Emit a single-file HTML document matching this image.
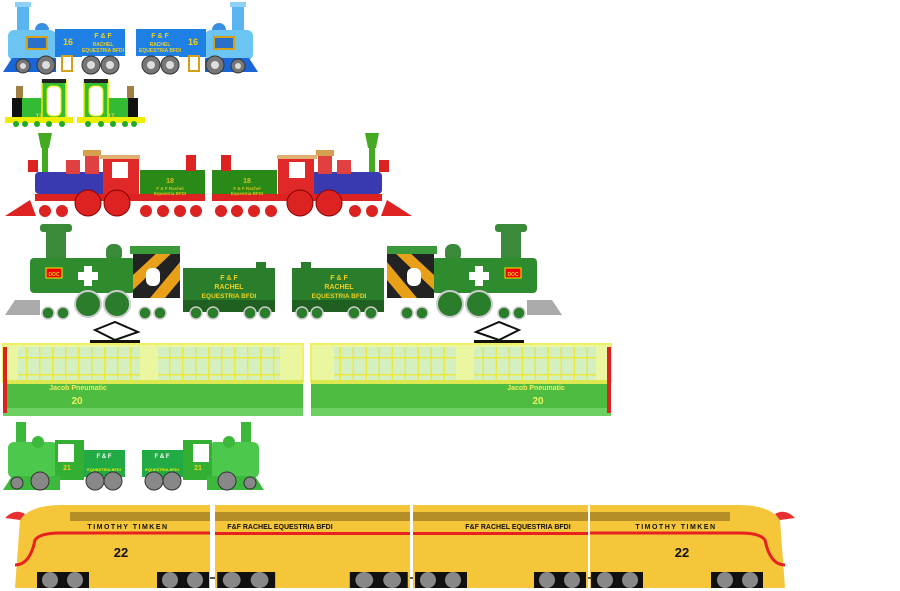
<!DOCTYPE html>
<html><head><meta charset="utf-8"><style>
html,body{margin:0;padding:0;background:#fff;width:900px;height:591px;overflow:hidden}
svg{display:block;font-family:"Liberation Sans",sans-serif}
</style></head><body>
<svg width="900" height="591" viewBox="0 0 900 591" xmlns="http://www.w3.org/2000/svg">
<defs>
<pattern id="win" x="0" y="0" width="13" height="17" patternUnits="userSpaceOnUse">
 <rect width="13" height="17" fill="#d4f0c0"/><rect x="0" y="0" width="1.5" height="17" fill="#e8e840"/><rect x="0" y="0" width="13" height="1.5" fill="#e8e840"/>
</pattern>
<g id="r1">
 <rect x="17" y="2" width="12" height="30" fill="#5ab4f0"/>
 <rect x="15" y="2" width="16" height="5" fill="#8fd0f8"/>
 <circle cx="42" cy="30" r="7" fill="#3a90e0"/>
 <rect x="8" y="30" width="48" height="30" rx="6" fill="#6cc4f2"/>
 <rect x="26" y="36" width="22" height="14" fill="#d4a017"/><rect x="28" y="38" width="18" height="10" fill="#2a70c8"/>
 <polygon points="3,72 12,58 56,58 56,72" fill="#1a66d6"/>
 <rect x="55" y="29" width="27" height="28" fill="#1e80e4"/>
 <rect x="82" y="29" width="43" height="27" fill="#1e80e4"/>
 <rect x="62" y="56" width="10" height="15" fill="none" stroke="#d4a017" stroke-width="2"/>
 <g fill="#777" stroke="#333" stroke-width="1"><circle cx="23" cy="66" r="7"/><circle cx="46" cy="65" r="9"/><circle cx="91" cy="65" r="9"/><circle cx="110" cy="65" r="9"/></g>
 <g fill="#ddd"><circle cx="23" cy="66" r="3"/><circle cx="46" cy="65" r="4"/><circle cx="91" cy="65" r="4"/><circle cx="110" cy="65" r="4"/></g>
</g>
<g id="r2">
 <rect x="16" y="86" width="7" height="12" fill="#a08040"/>
 <rect x="12" y="98" width="12" height="20" fill="#111"/>
 <rect x="22" y="98" width="22" height="20" fill="#33bb33"/>
 <rect x="42" y="80" width="24" height="38" fill="#33bb33" stroke="#ee0" stroke-width="1.5"/>
 <rect x="42" y="79" width="24" height="4" fill="#222"/>
 <rect x="47" y="86" width="14" height="30" rx="5" fill="#fff" stroke="#ee0"/>
 <rect x="5" y="117" width="68" height="6" fill="#ee0"/>
 <g fill="#2a2"><circle cx="16" cy="124" r="3"/><circle cx="25" cy="124" r="3"/><circle cx="37" cy="124" r="3"/><circle cx="49" cy="124" r="3"/><circle cx="62" cy="124" r="3"/></g>
</g>
<g id="r3">
 <polygon points="38,133 52,133 49,148 41,148" fill="#44aa22"/><rect x="42" y="148" width="6" height="28" fill="#44aa22"/>
 <rect x="28" y="160" width="10" height="12" fill="#d22"/>
 <rect x="35" y="172" width="80" height="22" rx="4" fill="#3a3ab0"/>
 <rect x="66" y="160" width="14" height="14" fill="#e04040"/><rect x="85" y="150" width="14" height="24" fill="#e04040"/>
 <rect x="83" y="150" width="18" height="6" fill="#d4a050"/>
 <rect x="103" y="157" width="36" height="40" fill="#e02828"/><rect x="100" y="155" width="40" height="4" fill="#e0b070"/>
 <rect x="112" y="162" width="16" height="16" fill="#fff"/>
 <rect x="140" y="170" width="65" height="28" fill="#2a8a18"/>
 <rect x="186" y="155" width="10" height="16" fill="#d22"/>
 <rect x="35" y="194" width="170" height="7" fill="#d22"/>
 <polygon points="5,216 30,200 36,216" fill="#d22"/>
 <g fill="#d22" stroke="#800"><circle cx="88" cy="203" r="13"/><circle cx="117" cy="203" r="13"/></g>
 <g fill="#d22"><circle cx="45" cy="211" r="6"/><circle cx="62" cy="211" r="6"/><circle cx="146" cy="211" r="6"/><circle cx="163" cy="211" r="6"/><circle cx="180" cy="211" r="6"/><circle cx="196" cy="211" r="6"/></g>
</g>
<g id="r4">
 <rect x="40" y="224" width="32" height="8" rx="3" fill="#3a8a3a"/><rect x="46" y="230" width="20" height="28" fill="#3a8a3a"/>
 <rect x="106" y="244" width="16" height="18" rx="7" fill="#3a8a3a"/>
 <rect x="30" y="258" width="105" height="35" rx="4" fill="#2e8b2e"/>
 <rect x="133" y="250" width="47" height="48" fill="#222"/>
 <polygon points="133,275 160,250 175,250 133,290" fill="#e8a018"/><polygon points="150,298 180,262 180,280 165,298" fill="#e8a018"/>
 <rect x="130" y="246" width="50" height="8" fill="#3a9a3a"/>
 <rect x="146" y="268" width="14" height="18" rx="6" fill="#fff"/>
 <rect x="46" y="268" width="16" height="10" fill="#e00" stroke="#ee0"/>
 <rect x="78" y="272" width="20" height="8" fill="#fff"/><rect x="84" y="266" width="8" height="20" fill="#fff"/>
 <polygon points="5,315 15,300 40,300 40,315" fill="#aaa"/>
 <rect x="183" y="268" width="92" height="42" fill="#2a7d2a"/><rect x="256" y="262" width="10" height="8" fill="#2a7d2a"/>
 <rect x="183" y="300" width="92" height="12" fill="#1f5f1f"/>
 <g fill="#2a7d2a" stroke="#ccc" stroke-width="2"><circle cx="88" cy="304" r="13"/><circle cx="117" cy="304" r="13"/></g>
 <g fill="#2a7d2a" stroke="#ccc" stroke-width="1.5"><circle cx="48" cy="313" r="6"/><circle cx="63" cy="313" r="6"/><circle cx="145" cy="313" r="6"/><circle cx="160" cy="313" r="6"/><circle cx="196" cy="313" r="6"/><circle cx="213" cy="313" r="6"/><circle cx="250" cy="313" r="6"/><circle cx="265" cy="313" r="6"/></g>
</g>
<g id="r6">
 <rect x="16" y="422" width="10" height="22" fill="#3cb83c"/>
 <rect x="8" y="442" width="50" height="36" rx="6" fill="#4cc84c"/>
 <circle cx="38" cy="442" r="6" fill="#3cb83c"/>
 <rect x="55" y="440" width="29" height="40" fill="#33b033"/><rect x="58" y="444" width="16" height="18" fill="#fff"/>
 <rect x="84" y="450" width="41" height="27" fill="#22aa44"/>
 <polygon points="3,490 12,476 60,476 60,490" fill="#3cb83c"/>
 <g fill="#888" stroke="#333"><circle cx="17" cy="483" r="6"/><circle cx="40" cy="481" r="9"/><circle cx="95" cy="481" r="9"/><circle cx="113" cy="481" r="9"/></g>
</g>
<g id="ecar">
 <rect x="3" y="344" width="300" height="38" fill="#eaf6a0" stroke="#f0f060" stroke-width="2"/>
 <rect x="18" y="347" width="122" height="34" fill="url(#win)"/><rect x="158" y="347" width="122" height="34" fill="url(#win)"/>
 <rect x="3" y="380" width="300" height="36" fill="#4ebc40"/>
 <rect x="3" y="380" width="300" height="4" fill="#dde850"/>
 <rect x="3" y="408" width="300" height="8" fill="#6cd060"/>
 <rect x="3" y="347" width="4" height="66" fill="#d22"/>
 <rect x="90" y="340" width="50" height="3" fill="#111"/>
 <path d="M95,330 L115,322 L138,332 L115,340 Z" fill="none" stroke="#111" stroke-width="2"/>
</g>
<g id="r7">
 <path d="M20,520 Q30,505 62,505 L210,505 L210,588 L15,588 Z" fill="#f5c63a"/>
 <rect x="70" y="512" width="140" height="9" fill="#b58e28"/>
 <path d="M15,565 Q30,565 35,540 Q40,533 60,533 L210,533" stroke="#e82020" stroke-width="3" fill="none"/>
 <path d="M5,518 Q15,508 25,514 L20,520 Z" fill="#e83030"/>
 <g fill="#111"><rect x="37" y="572" width="52" height="16"/><rect x="157" y="572" width="52" height="16"/></g>
 <g fill="#888"><circle cx="50" cy="580" r="8"/><circle cx="75" cy="580" r="8"/><circle cx="170" cy="580" r="8"/><circle cx="195" cy="580" r="8"/></g>
</g>
<g id="c7">
 <rect x="0" y="505" width="175" height="83" fill="#f5c63a"/>
 <rect x="0" y="512" width="175" height="9" fill="#b58e28"/>
 <rect x="0" y="532" width="175" height="3" fill="#e82020"/>
 <g fill="#111"><rect x="2" y="572" width="52" height="16"/><rect x="121" y="572" width="52" height="16"/></g>
 <g fill="#888"><circle cx="15" cy="580" r="8"/><circle cx="40" cy="580" r="8"/><circle cx="134" cy="580" r="8"/><circle cx="159" cy="580" r="8"/></g>
</g>
</defs>
<use href="#r1"/><use href="#r1" transform="translate(261,0) scale(-1,1)"/>
<use href="#r2"/><use href="#r2" transform="translate(150,0) scale(-1,1)"/>
<use href="#r3"/><use href="#r3" transform="translate(417,0) scale(-1,1)"/>
<use href="#r4"/><use href="#r4" transform="translate(567,0) scale(-1,1)"/>
<use href="#ecar"/><use href="#ecar" transform="translate(614,0) scale(-1,1)"/>
<use href="#r6"/><use href="#r6" transform="translate(267,0) scale(-1,1)"/>
<use href="#r7"/><use href="#r7" transform="translate(800,0) scale(-1,1)"/>
<use href="#c7" transform="translate(215,0) scale(1.114,1)"/><use href="#c7" transform="translate(413,0)"/>
<g stroke="#222" stroke-width="1.5"><line x1="210" y1="578" x2="215" y2="578"/><line x1="410" y1="578" x2="413" y2="578"/><line x1="588" y1="578" x2="592" y2="578"/></g>

<g fill="#f0d020" font-weight="bold" text-anchor="middle">
 <text x="68" y="45" font-size="9">16</text><text x="193" y="45" font-size="9">16</text>
 <text x="103" y="38" font-size="7">F &amp; F</text><text x="103" y="46" font-size="5">RACHEL</text><text x="103" y="52" font-size="5">EQUESTRIA BFDI</text>
 <text x="160" y="38" font-size="7">F &amp; F</text><text x="160" y="46" font-size="5">RACHEL</text><text x="160" y="52" font-size="5">EQUESTRIA BFDI</text>
 <text x="39" y="118" font-size="6">17</text><text x="111" y="118" font-size="6">17</text>
 <g fill="#d0c020"><text x="170" y="183" font-size="7">18</text><text x="170" y="190" font-size="4.5">F &amp; F Rachel</text><text x="170" y="195" font-size="4.5">Equestria BFDI</text>
 <text x="247" y="183" font-size="7">18</text><text x="247" y="190" font-size="4.5">F &amp; F Rachel</text><text x="247" y="195" font-size="4.5">Equestria BFDI</text></g>
 <text x="229" y="280" font-size="7">F &amp; F</text><text x="229" y="289" font-size="7">RACHEL</text><text x="229" y="298" font-size="6.5">EQUESTRIA BFDI</text>
 <text x="339" y="280" font-size="7">F &amp; F</text><text x="339" y="289" font-size="7">RACHEL</text><text x="339" y="298" font-size="6.5">EQUESTRIA BFDI</text>
 <text x="54" y="276" font-size="5">DOC</text><text x="513" y="276" font-size="5">DOC</text>
 <text x="78" y="390" font-size="7" fill="#f0f060">Jacob Pneumatic</text><text x="77" y="404" font-size="10" fill="#f0f060">20</text>
 <text x="536" y="390" font-size="7" fill="#f0f060">Jacob Pneumatic</text><text x="538" y="404" font-size="10" fill="#f0f060">20</text>
 <text x="67" y="470" font-size="7">21</text><text x="198" y="470" font-size="7">21</text>
 <text x="104" y="458" font-size="6" fill="#fff">F &amp; F</text><text x="104" y="471" font-size="4" fill="#ee0">EQUESTRIA BFDI</text>
 <text x="162" y="458" font-size="6" fill="#fff">F &amp; F</text><text x="162" y="471" font-size="4" fill="#ee0">EQUESTRIA BFDI</text>
 <g fill="#111"><text x="128" y="529" font-size="7" letter-spacing="1.5">TIMOTHY TIMKEN</text><text x="676" y="529" font-size="7" letter-spacing="1.5">TIMOTHY TIMKEN</text>
 <text x="280" y="529" font-size="7">F&amp;F RACHEL EQUESTRIA BFDI</text><text x="518" y="529" font-size="7">F&amp;F RACHEL EQUESTRIA BFDI</text>
 <text x="121" y="557" font-size="13">22</text><text x="682" y="557" font-size="13">22</text></g>
</g>
</svg>
</body></html>
